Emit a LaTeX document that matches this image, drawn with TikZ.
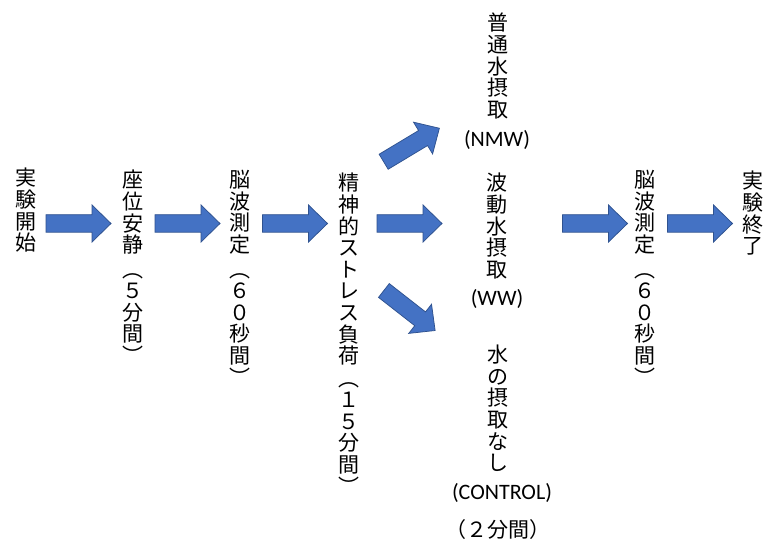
\documentclass[tikz,border=0pt]{standalone}
\usepackage{fontspec}
\newfontfamily\cjk{Noto Sans CJK JP}
\newfontfamily\lat{Carlito}
\definecolor{arrowfill}{HTML}{4472C4}
\definecolor{arrowline}{HTML}{2F528F}
\tikzset{
  vcol/.style={inner sep=0pt, anchor=north, align=center, font=\cjk\fontsize{21}{21.6}\selectfont},
  lab/.style={inner sep=0pt, font=\lat\fontsize{22}{24}\selectfont},
  htext/.style={inner sep=0pt, font=\cjk\fontsize{21}{24}\selectfont},
  blockarrow/.pic={\draw[fill=arrowfill, draw=arrowline, line width=0.75pt, line join=miter]
    (-32.5,-8.75) -- (13.5,-8.75) -- (13.5,-18.5) -- (32.5,0) -- (13.5,18.5) -- (13.5,8.75) -- (-32.5,8.75) -- cycle;}
}
\begin{document}
\begin{tikzpicture}[x=1pt, y=-1pt]
\useasboundingbox[fill=white] (0,0) rectangle (763,545);
% columns
\node[vcol] (start) at (26,168) {実\\験\\開\\始};
\node[vcol] (rest) at (133,170) {座\\位\\安\\静};
\node[vcol] (restp) at (133,273) {︵\\５\\分\\間\\︶};
\node[vcol] (eeg1) at (240,170) {脳\\波\\測\\定};
\node[vcol] (eeg1p) at (240,273) {︵\\６\\０\\秒\\間\\︶};
\node[vcol] (stress) at (349,173) {精\\神\\的\\ス\\ト\\レ\\ス\\負\\荷};
\node[vcol] (stressp) at (349,382) {︵\\１\\５\\分\\間\\︶};
\node[vcol] (nmw) at (498,13) {普\\通\\水\\摂\\取};
\node[lab] (nmwl) at (497,140) {(NMW)};
\node[vcol] (ww) at (497,173) {波\\動\\水\\摂\\取};
\node[lab] (wwl) at (497,299) {(WW)};
\node[vcol] (ctl) at (498,345) {水\\の\\摂\\取\\な\\し};
\node[lab] (ctll) at (502,493) {(CONTROL)};
\node[htext] (ctlt) at (498,530) {（２分間）};
\node[vcol] (eeg2) at (645,170) {脳\\波\\測\\定};
\node[vcol] (eeg2p) at (645,273) {︵\\６\\０\\秒\\間\\︶};
\node[vcol] (end) at (753,171) {実\\験\\終\\了};
% arrows
\pic (a1) at (78.5,223.5) {blockarrow};
\pic (a2) at (187.5,223.5) {blockarrow};
\pic (a3) at (295,223.5) {blockarrow};
\pic[rotate=31] (a4) at (411.5,145) {blockarrow};
\pic (a5) at (409.5,223.5) {blockarrow};
\pic[rotate=-38] (a6) at (409.5,310.5) {blockarrow};
\pic (a7) at (595,223.5) {blockarrow};
\pic (a8) at (700,223.5) {blockarrow};
\end{tikzpicture}
\end{document}
